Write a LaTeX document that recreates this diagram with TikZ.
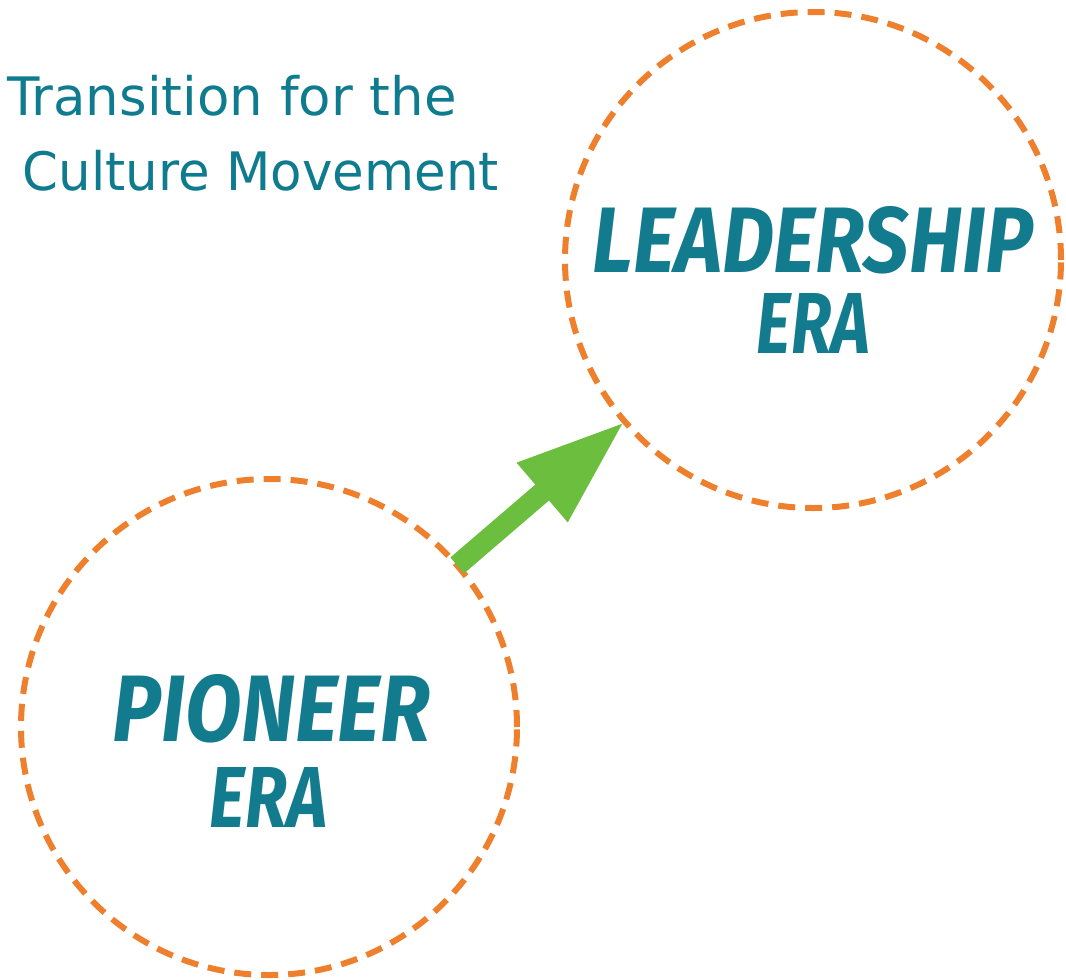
\documentclass[tikz,border=0pt]{standalone}
\usepackage{fontspec}
\usetikzlibrary{arrows.meta}
\newfontfamily\titlefont{DejaVu Sans}
\newfontfamily\labfont{Fira Sans}
\definecolor{dashorange}{HTML}{EE7F2D}
\definecolor{titleteal}{HTML}{0F7B8E}
\definecolor{labteal}{HTML}{137B8E}
\definecolor{arrowgreen}{HTML}{6CBE3F}
\tikzset{
  era/.style={circle, draw=dashorange, line width=6pt, dash pattern=on 17pt off 10pt, minimum size=496pt, inner sep=0pt, outer sep=0pt},
  lab/.style={inner sep=0pt, outer sep=0pt, text=labteal, anchor=center},
  ttl/.style={inner sep=0pt, outer sep=0pt, text=titleteal, anchor=base west, font=\titlefont\fontsize{53}{60}\selectfont},
  bigarrow/.style={draw=arrowgreen, line width=21pt, -{Triangle[length=109pt, width=72pt]}, fill=arrowgreen}
}
\newcommand{\labtext}[3]{\resizebox{#1pt}{#2pt}{\labfont\bfseries\itshape #3}}
\begin{document}
\begin{tikzpicture}[x=1pt, y=-1pt]
  \useasboundingbox (0,0) rectangle (1066,980);
  \node[era] (lc) at (813,260) {};
  \node[era] (pc) at (269,727) {};
  \node[lab] (lead) at (813,240) {\labtext{440}{66}{LEADERSHIP}};
  \node[lab] (lera) at (813.5,323) {\labtext{113}{60}{ERA}};
  \node[lab] (pion) at (271.5,708.5) {\labtext{317}{67}{PIONEER}};
  \node[lab] (pera) at (268.5,797) {\labtext{117}{60}{ERA}};
  \node[ttl] (t1) at (7,115) {Transition for the};
  \node[ttl] (t2) at (23,190) {\scalebox{0.97}[1]{Culture Movement}};
  \draw[bigarrow] (pc) -- (lc);
\end{tikzpicture}
\end{document}
